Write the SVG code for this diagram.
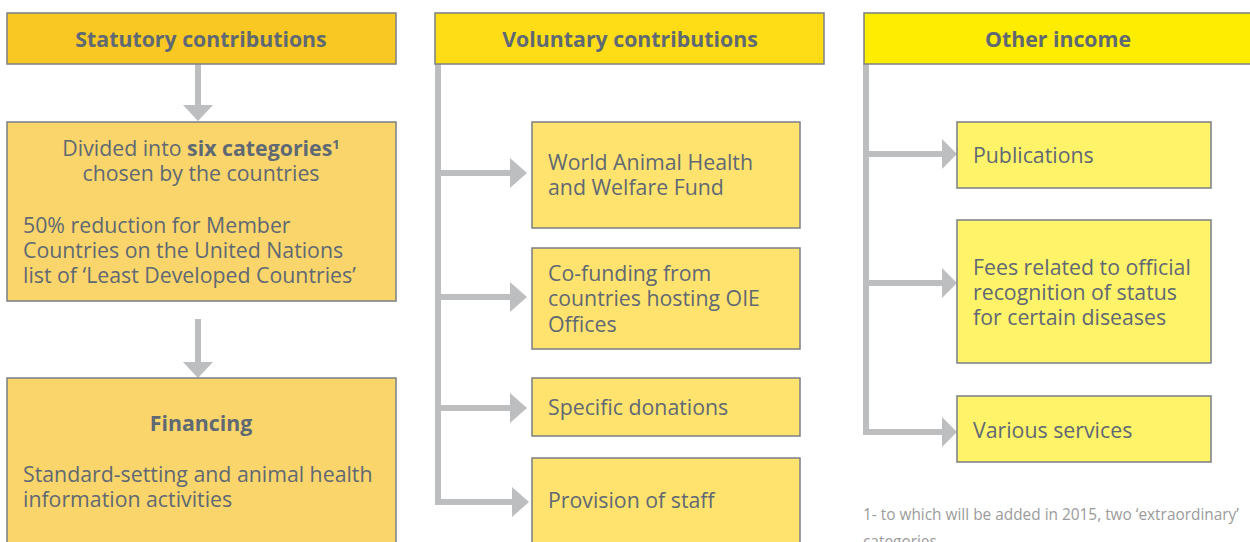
<svg xmlns="http://www.w3.org/2000/svg" width="1250" height="542" viewBox="0 0 1250 542">
<defs>
<style>
.box{stroke:#7a7f86;stroke-width:1.5}
.t{font-family:"Open Sans","Liberation Sans",sans-serif;font-size:21.3px;fill:#5f6973}
.b{font-weight:bold}
.c{text-anchor:middle}
.ln{stroke:#bdbec0;stroke-width:6;fill:none}
.ah{fill:#bdbec0}
.fn{font-family:"Open Sans","Liberation Sans",sans-serif;font-size:15.4px;fill:#9b9b9b}
</style>
</defs>
<rect width="1250" height="542" fill="#ffffff"/>
<g id="connectors">
<line class="ln" x1="198" y1="64" x2="198" y2="106"/>
<polygon class="ah" points="183,105 213,105 198,121"/>
<line class="ln" x1="198" y1="319" x2="198" y2="364"/>
<polygon class="ah" points="183,362 213,362 198,378"/>
<polyline class="ln" points="438,64 438,502 512,502"/>
<line class="ln" x1="438" y1="173" x2="512" y2="173"/>
<line class="ln" x1="438" y1="297" x2="512" y2="297"/>
<line class="ln" x1="438" y1="408" x2="512" y2="408"/>
<polygon class="ah" points="510,158 527,173 510,188"/>
<polygon class="ah" points="510,282 527,297 510,312"/>
<polygon class="ah" points="510,393 527,408 510,423"/>
<polygon class="ah" points="512,487 529,502 512,517"/>
<polyline class="ln" points="866,64 866,432 944,432"/>
<line class="ln" x1="866" y1="154" x2="944" y2="154"/>
<line class="ln" x1="866" y1="283" x2="944" y2="283"/>
<polygon class="ah" points="942,139 957,154 942,169"/>
<polygon class="ah" points="942,268 957,283 942,298"/>
<polygon class="ah" points="942,417 957,432 942,447"/>
</g>
<g id="statutory">
<rect class="box" x="7" y="13" width="389" height="51" fill="#f9c822"/>
<text class="t b c" x="201" y="47">Statutory contributions</text>
</g>
<g id="categories">
<rect class="box" x="7" y="122" width="389" height="179" fill="#fad56b"/>
<text class="t c" x="201" y="156">Divided into <tspan class="b">six categories</tspan><tspan class="b" font-size="13" dy="-7">1</tspan></text>
<text class="t c" x="201" y="181">chosen by the countries</text>
<text class="t" x="23" y="233">50% reduction for Member</text>
<text class="t" x="23" y="258">Countries on the United Nations</text>
<text class="t" x="23" y="283">list of ‘Least Developed Countries’</text>
</g>
<g id="financing">
<rect class="box" x="7" y="378" width="389" height="180" fill="#fad56b"/>
<text class="t b c" x="201" y="431">Financing</text>
<text class="t" x="23" y="482">Standard-setting and animal health</text>
<text class="t" x="23" y="507">information activities</text>
</g>
<g id="voluntary">
<rect class="box" x="435" y="13" width="389" height="51" fill="#fedd17"/>
<text class="t b c" x="630" y="47">Voluntary contributions</text>
</g>
<g id="fund">
<rect class="box" x="532" y="122" width="268" height="106" fill="#ffe36e"/>
<text class="t" x="548" y="170">World Animal Health</text>
<text class="t" x="548" y="195">and Welfare Fund</text>
</g>
<g id="cofunding">
<rect class="box" x="532" y="248" width="268" height="101" fill="#ffe36e"/>
<text class="t" x="548" y="281">Co-funding from</text>
<text class="t" x="548" y="306">countries hosting OIE</text>
<text class="t" x="548" y="332">Offices</text>
</g>
<g id="donations">
<rect class="box" x="532" y="378" width="268" height="58" fill="#ffe36e"/>
<text class="t" x="548" y="415">Specific donations</text>
</g>
<g id="staff">
<rect class="box" x="532" y="458" width="268" height="100" fill="#ffe36e"/>
<text class="t" x="548" y="508">Provision of staff</text>
</g>
<g id="other">
<rect class="box" x="864" y="13" width="392" height="51" fill="#ffed00"/>
<text class="t b c" x="1058" y="47">Other income</text>
</g>
<g id="publications">
<rect class="box" x="957" y="122" width="254" height="66" fill="#fff36a"/>
<text class="t" x="973" y="163">Publications</text>
</g>
<g id="fees">
<rect class="box" x="957" y="220" width="254" height="143" fill="#fff36a"/>
<text class="t" x="973" y="275">Fees related to official</text>
<text class="t" x="973" y="300">recognition of status</text>
<text class="t" x="973" y="325">for certain diseases</text>
</g>
<g id="services">
<rect class="box" x="957" y="396" width="254" height="66" fill="#fff36a"/>
<text class="t" x="973" y="438">Various services</text>
</g>
<g id="footnote">
<text class="fn" x="863" y="520">1- to which will be added in 2015, two ‘extraordinary’</text>
<text class="fn" x="863" y="547">categories</text>
</g>
</svg>
